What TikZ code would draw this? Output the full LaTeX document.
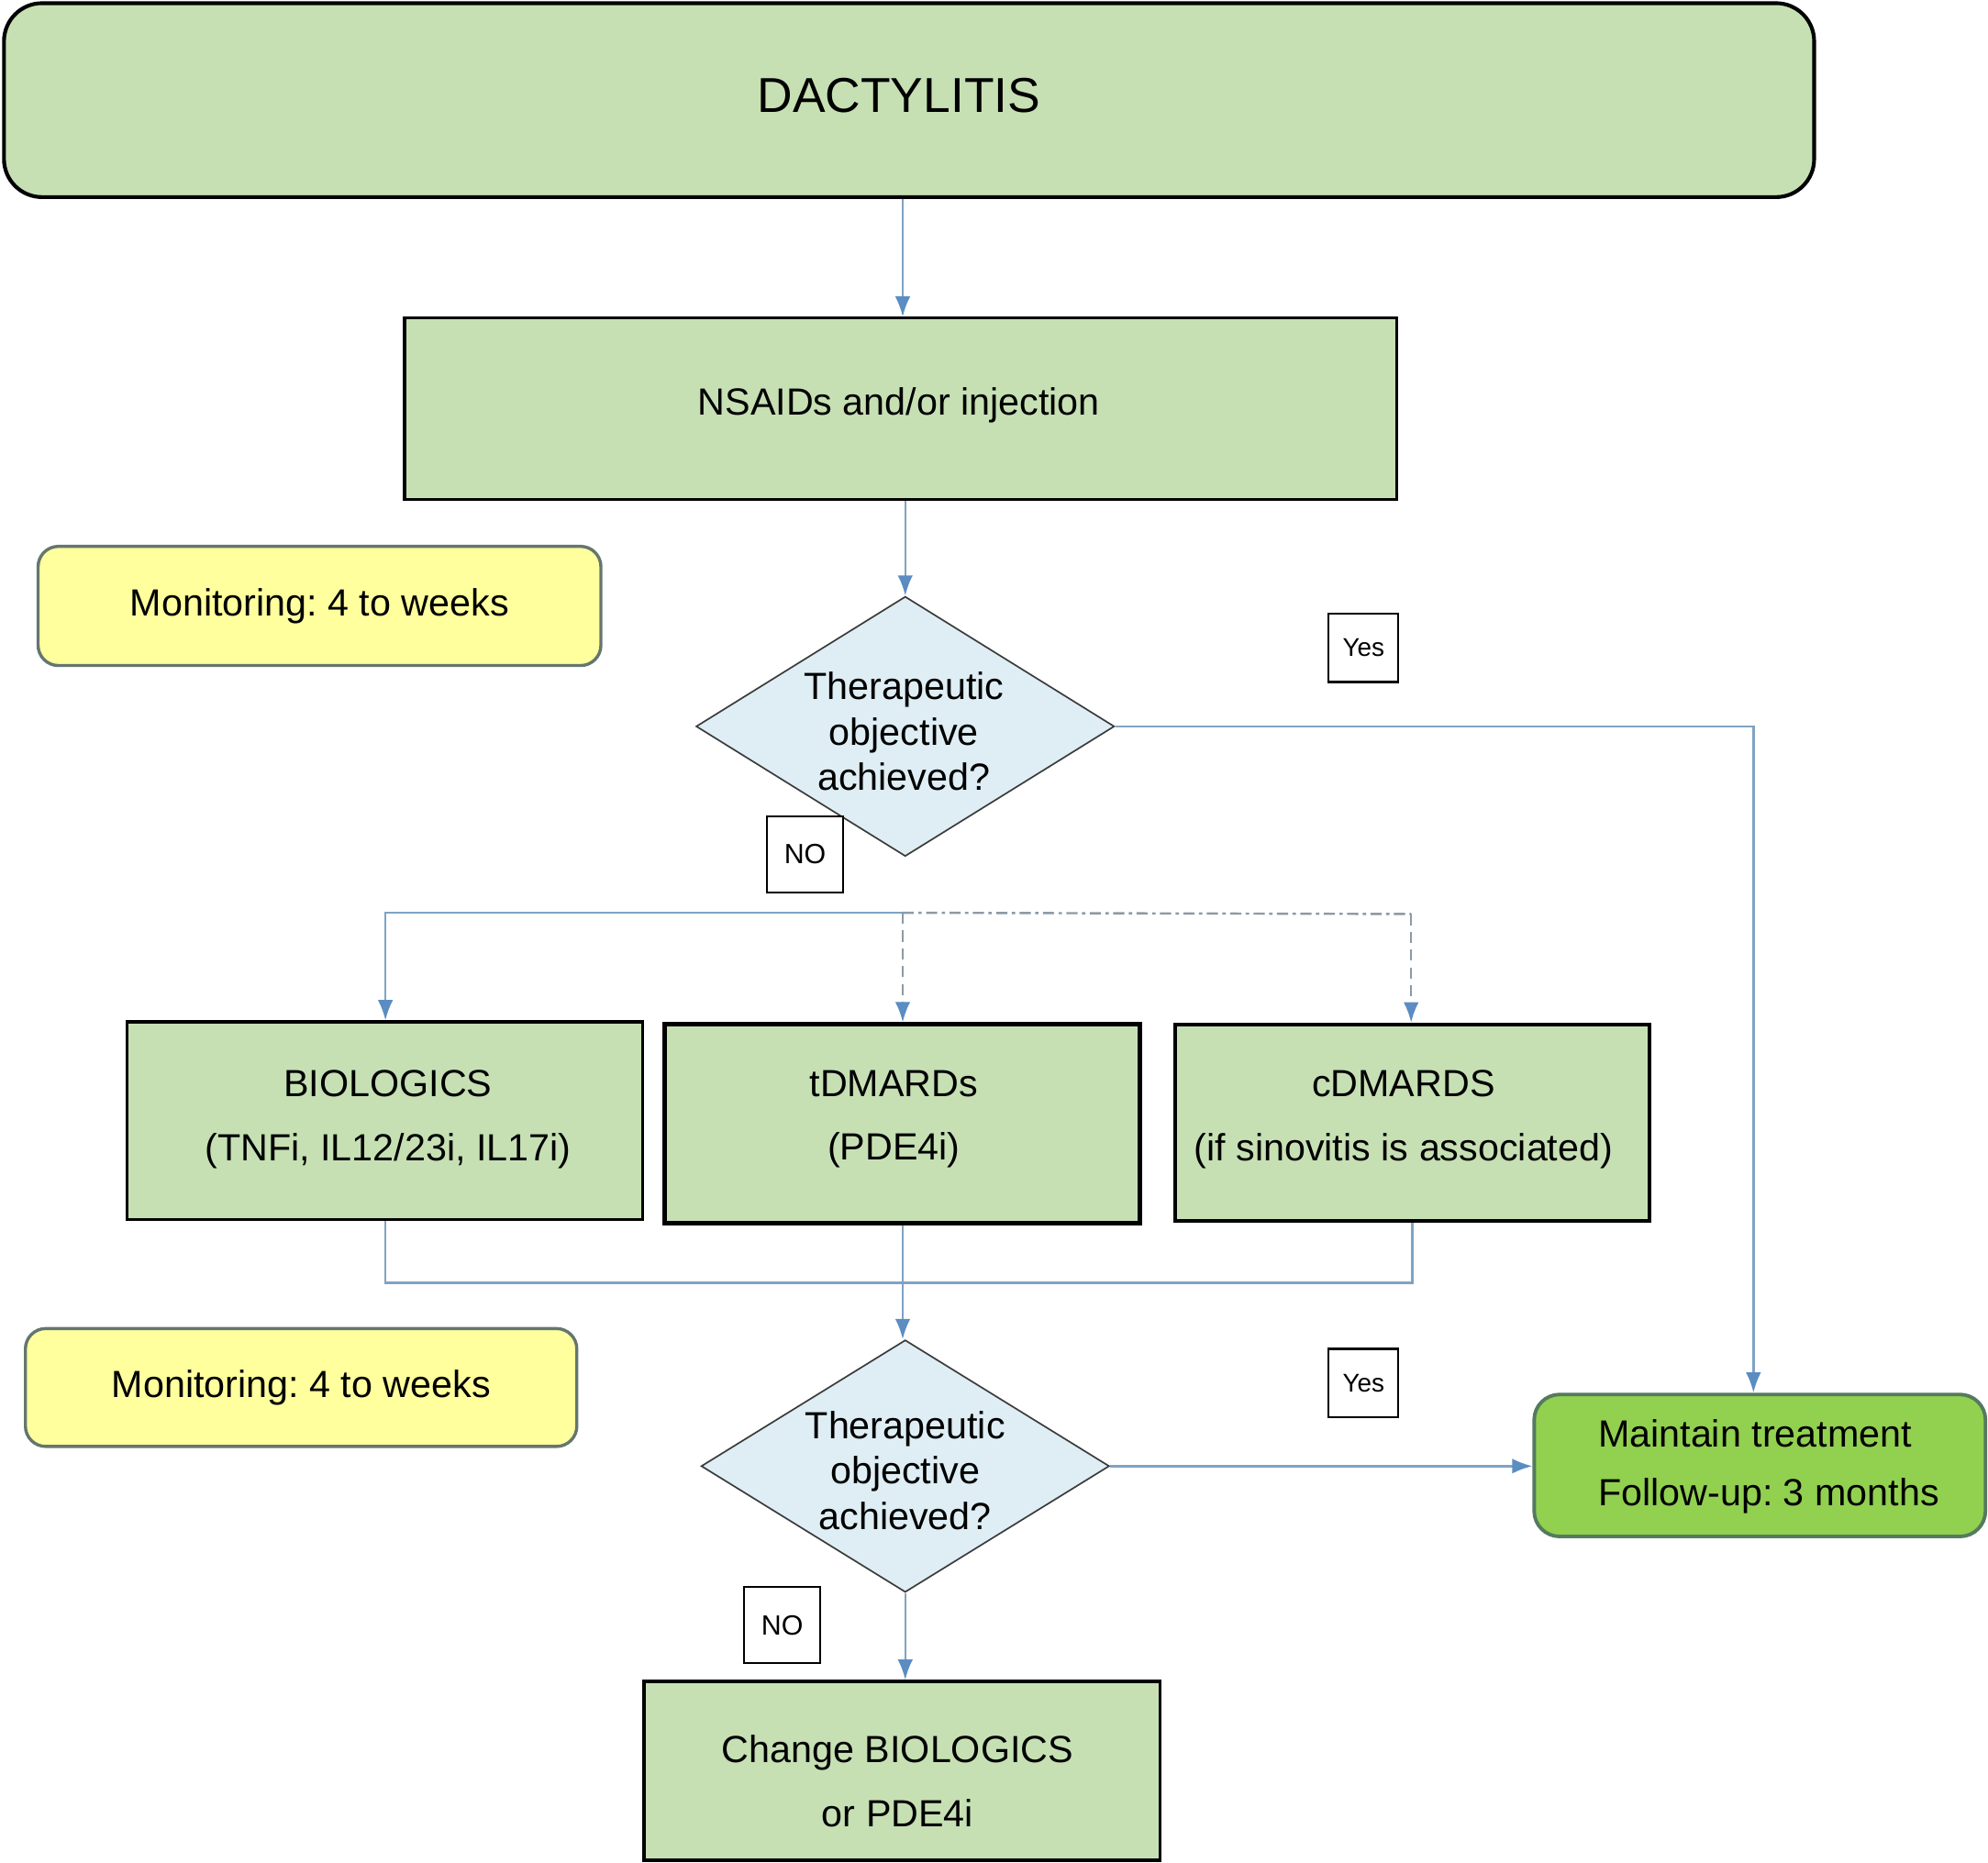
\documentclass[tikz,border=0pt]{standalone}
\usepackage{fontspec}
\setmainfont{Liberation Sans}
\usetikzlibrary{shapes.geometric,arrows.meta}
\definecolor{boxgreen}{HTML}{C6E0B4}
\definecolor{maingreen}{HTML}{92D050}
\definecolor{mainborder}{HTML}{557A5E}
\definecolor{monyellow}{HTML}{FFFF9E}
\definecolor{monborder}{HTML}{64766F}
\definecolor{decblue}{HTML}{DEEEF4}
\definecolor{decborder}{HTML}{3C3C3C}
\definecolor{conn}{HTML}{7FA3C4}
\definecolor{arrowblue}{HTML}{5B8DC2}
\definecolor{dashgray}{HTML}{8C9AA6}
\tikzset{
  mainfont/.style={font=\frenchspacing\fontsize{17}{28.45}\selectfont},
  greenbox/.style={draw=black, fill=boxgreen, rectangle, inner sep=0pt, align=center, mainfont},
  monbox/.style={draw=monborder, line width=1.4pt, fill=monyellow, rounded corners=0.32cm, inner sep=0pt, mainfont},
  decbox/.style={draw=decborder, line width=0.7pt, fill=decblue, diamond, inner sep=0pt},
  dectext/.style={align=center, font=\frenchspacing\fontsize{17}{20.5}\selectfont, inner sep=0pt},
  labbox/.style={draw=black, line width=0.9pt, fill=white, inner sep=0pt},
  conline/.style={draw=conn, line width=1pt},
  tipblue/.style={-{Latex[length=0.32cm,width=0.24cm,color=arrowblue]}},
  arr/.style={conline, tipblue},
  dashv/.style={draw=dashgray, line width=1pt, dash pattern=on 5pt off 3pt},
  dashdotline/.style={draw=dashgray, line width=1pt, dash pattern=on 5pt off 2pt on 1.5pt off 2pt}
}
\begin{document}
\frenchspacing
\begin{tikzpicture}[x=0.02cm,y=-0.02cm]
\useasboundingbox (0,0) rectangle (1568,1469);

% top box
\node[draw=black, line width=1.7pt, fill=boxgreen, rounded corners=0.6cm,
      minimum width=28.56cm, minimum height=3.06cm, inner sep=0pt] (dac) at (717,79) {};
\node[font=\fontsize{22}{26}\selectfont] (dactxt) at (709,75) {DACTYLITIS};

% NSAIDs
\node[greenbox, line width=1.3pt, minimum width=15.66cm, minimum height=2.86cm] (nsaid) at (710.5,322.5) {};
\node[mainfont] (nsaidtxt) at (709,320) {NSAIDs and/or injection};

% Monitoring boxes
\node[monbox, minimum width=8.88cm, minimum height=1.88cm] (mon1) at (252,478) {Monitoring: 4 to weeks};
\node[monbox, minimum width=8.7cm, minimum height=1.86cm] (mon2) at (237.5,1094.5) {Monitoring: 4 to weeks};

% Decision 1
\node[decbox, minimum width=6.6cm, minimum height=4.1cm] (d1) at (714,573) {};
\node[dectext] (d1t) at (713,577) {Therapeutic\\objective\\achieved?};

% Decision 2
\node[decbox, minimum width=6.44cm, minimum height=3.98cm] (d2) at (714,1156.5) {};
\node[dectext] (d2t) at (714,1160) {Therapeutic\\objective\\achieved?};

% treatment boxes
\node[greenbox, line width=1.3pt, minimum width=8.14cm, minimum height=3.12cm] (bio) at (303.5,884) {};
\node[align=center, mainfont] (biotxt) at (306,883) {BIOLOGICS\\(TNFi, IL12/23i, IL17i)};

\node[greenbox, line width=1.9pt, minimum width=7.5cm, minimum height=3.14cm] (tdm) at (711.5,886.5) {};
\node[align=center, mainfont] (tdmtxt) at (705,883) {tDMARDs\\(PDE4i)};

\node[greenbox, line width=1.6pt, minimum width=7.48cm, minimum height=3.1cm] (cdm) at (1114,885.5) {};
\node[align=center, mainfont] (cdmtxt) at (1107,883) {cDMARDS\\(if sinovitis is associated)};

% maintain
\node[draw=mainborder, line width=1.6pt, fill=maingreen, rounded corners=0.4cm,
      minimum width=7.12cm, minimum height=2.24cm, inner sep=0pt] (maint) at (1388,1156) {};
\node[align=left, font=\frenchspacing\fontsize{17}{26.2}\selectfont] (mainttxt) at (1395,1157) {Maintain treatment\\Follow-up: 3 months};

% change
\node[greenbox, line width=1.6pt, minimum width=8.14cm, minimum height=2.82cm] (chg) at (711.5,1397) {};
\node[align=center, mainfont] (chgtxt) at (708,1405) {Change BIOLOGICS\\or PDE4i};

% Yes / NO labels
\node[labbox, minimum width=1.1cm, minimum height=1.08cm, font=\fontsize{11.5}{13}\selectfont] (yes1) at (1075.5,511) {Yes};
\node[labbox, minimum width=1.1cm, minimum height=1.08cm, font=\fontsize{11.5}{13}\selectfont] (yes2) at (1075.5,1091) {Yes};
\node[labbox, minimum width=1.2cm, minimum height=1.2cm, font=\fontsize{12.5}{14}\selectfont] (no1) at (635,674) {NO};
\node[labbox, minimum width=1.2cm, minimum height=1.2cm, font=\fontsize{12.5}{14}\selectfont] (no2) at (617,1282) {NO};

% connectors
\draw[arr] (dac.south -| 712,0) -- (712,0 |- nsaid.north);
\draw[arr] (nsaid.south -| d1.north) -- (d1.north);
\draw[arr] (d1.east) -| (1383,0 |- maint.north);
\draw[arr] (d2.east) -- (d2.east -| maint.west);

\coordinate (split) at (712,720);
\coordinate (splitc) at (1113,721);
\draw[arr] (split) -| (304,0 |- bio.north);
\draw[dashv, tipblue] (split) -- (split |- tdm.north);
\draw[dashdotline] (split) -- (splitc);
\draw[dashv, tipblue] (splitc) -- (splitc |- cdm.north);

\coordinate (merge) at (712,1012);
\draw[conline] (304,0 |- bio.south) |- (merge);
\draw[conline] (1114,0 |- cdm.south) |- (merge);
\draw[arr] (712,0 |- tdm.south) -- (712,0 |- d2.north);
\draw[arr] (d2.south) -- (d2.south |- chg.north);
\end{tikzpicture}
\end{document}
